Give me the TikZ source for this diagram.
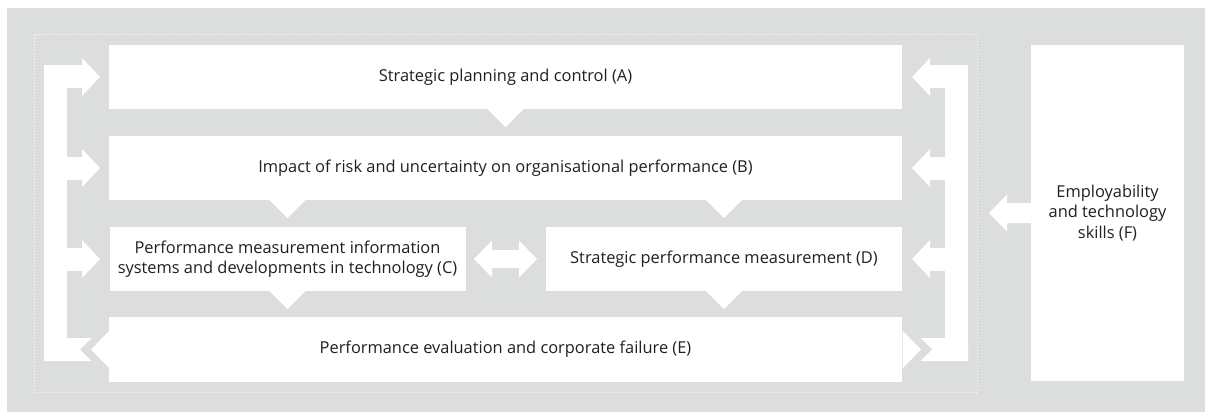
\documentclass[tikz,border=0pt]{standalone}
\usepackage{fontspec}
\setmainfont{Open Sans}
\usetikzlibrary{calc}
\definecolor{panelgrey}{RGB}{220,221,221}
\definecolor{inkgrey}{RGB}{35,31,32}

\begin{document}
\begin{tikzpicture}[x=1pt, y=-1pt,
    topic/.style={fill=white, inner sep=0pt, align=center, text=inkgrey,
        font=\fontsize{16.4}{20.5}\selectfont},
    wide/.style={topic, minimum width=793pt, minimum height=64pt},
    half/.style={topic, minimum width=356pt, minimum height=64pt}]
    % page size and grey panel
    \useasboundingbox (0,0) rectangle (1205,412);
    \fill[panelgrey] (7,8) rectangle (1205,412);
    \draw[white, line width=1pt, dash pattern=on 1pt off 2pt] (34,35) rectangle (977,392);

    % the syllabus areas
    \node[wide] (A) at (505.5,77) {Strategic planning and control (A)};
    \node[wide] (B) at (505.5,168) {Impact of risk and uncertainty on organisational performance (B)};
    \node[half] (C) at (287.5,259) {Performance measurement information\\systems and developments in technology (C)};
    \node[half] (D) at (724,259) {Strategic performance measurement (D)};
    \node[wide, minimum height=65pt] (E) at (505.5,349.5) {Performance evaluation and corporate failure (E)};
    \node[topic, minimum width=153pt, minimum height=336pt] (F) at (1107.5,213) {Employability\\and technology\\skills (F)};

    % pointers from one area down to the next
    \foreach \from/\col in {A/A, B/C, B/D, C/C, D/D} {
        \coordinate (p) at (\col.south |- \from.south);
        \fill[white] ($(p)+(-18.5,-0.5)$) -- ($(p)+(0,18)$) -- ($(p)+(18.5,-0.5)$) -- cycle;
    }

    % C and D inform each other
    \fill[white] (474,259) -- (492,240.5) -- (492,250) -- (519,250) -- (519,240.5) -- (537,259)
        -- (519,277.5) -- (519,268) -- (492,268) -- (492,277.5) -- cycle;

    % feedback loops on both sides (right one is the mirror image)
    \foreach \sx/\dx in {1/0, -1/1012} {
        \begin{scope}[shift={(\dx,0)}, xscale=\sx]
            \fill[white] (44,65.5) rectangle (67,361);
            \foreach \y in {77,168,259} {
                \fill[white] (44,\y-11.5) rectangle (82.5,\y+11.5);
                \fill[white] (82,\y-19) -- (100,\y) -- (82,\y+19) -- cycle;
            }
            % tail of the loop and the head leaving E
            \fill[white] (44,338) -- (91.5,338) -- (80,349.5) -- (91.5,361) -- (44,361) -- cycle;
            \fill[white] (109.5,330.5) -- (91,349.5) -- (109.5,368.5) -- cycle;
        \end{scope}
    }

    % skills feed into everything
    \fill[white] (989,213) -- (1007,194.5) -- (1007,203) -- (1031.5,203) -- (1031.5,223)
        -- (1007,223) -- (1007,231.5) -- cycle;
\end{tikzpicture}
\end{document}
